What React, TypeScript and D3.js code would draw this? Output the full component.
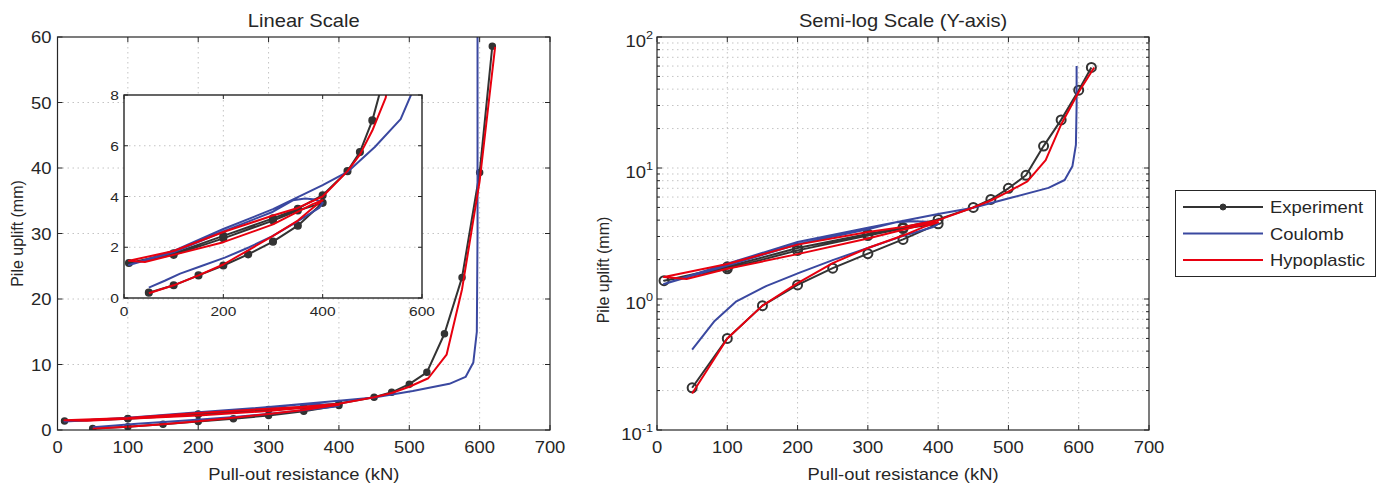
import React from 'react';
import * as d3 from 'd3';

// ---------- data ----------
const expX = [50, 100, 150, 200, 250, 300, 350, 400, 350, 300, 200, 100, 10, 100, 200, 300, 350, 400, 450, 475, 500, 525, 550, 575, 600, 618];
const expY = [0.21, 0.5, 0.89, 1.28, 1.72, 2.22, 2.85, 3.75, 3.45, 3.05, 2.35, 1.7, 1.38, 1.76, 2.45, 3.14, 3.52, 4.05, 5.0, 5.75, 7.0, 8.8, 14.7, 23.3, 39.3, 58.6];

const coulombX = [50, 82, 113, 156, 203, 251, 298, 346, 393, 400, 385, 365, 340, 300, 200, 100, 10, 100, 200, 300, 400, 450, 505, 557, 580, 591, 596, 597, 597];
const coulombY = [0.41, 0.68, 0.96, 1.26, 1.59, 1.99, 2.43, 2.98, 3.55, 3.75, 3.88, 3.92, 3.85, 3.4, 2.62, 1.8, 1.3, 1.86, 2.72, 3.5, 4.45, 4.97, 5.95, 7.05, 8.1, 10.3, 15, 30, 60];

const hypoX = [50, 100, 150, 200, 250, 300, 350, 380, 400, 380, 300, 200, 100, 42, 10, 100, 200, 300, 350, 400, 450, 475, 500, 527, 553, 575, 600, 622];
const hypoY = [0.19, 0.5, 0.89, 1.32, 1.88, 2.45, 3.05, 3.55, 3.85, 3.7, 2.9, 2.2, 1.7, 1.42, 1.47, 1.85, 2.6, 3.25, 3.55, 4.0, 5.0, 5.65, 6.6, 7.9, 11.5, 21.5, 38, 58.5];

const xTicks = [0, 100, 200, 300, 400, 500, 600, 700];
const linYTicks = [0, 10, 20, 30, 40, 50, 60];
const insetXTicks = [0, 200, 400, 600];
const insetYTicks = [0, 2, 4, 6, 8];
const logYMajor = [0.1, 1, 10, 100];
const logYExp = ['-1', '0', '1', '2'];

const seriesNames = ['Experiment', 'Coulomb', 'Hypoplastic'];

// ---------- style ----------
const FONT = "'Liberation Sans', Arial, Helvetica, sans-serif";
const SX = 1.15;
const AX = '#262626';
const GRID = '#c4c4c4';
const COL = { exp: '#333333', coul: '#3a48a0', hypo: '#e8000f' };
const W = 1385;
const H = 486;

const zip = (xs: number[], ys: number[]) => xs.map((x, i) => [x, ys[i]] as [number, number]);

function HText({ x, y, anchor = 'middle', size = 16, children }: any) {
  return (
    <text transform={`translate(${x},${y}) scale(${SX},1)`} textAnchor={anchor} fontSize={size} fontFamily={FONT} fill={AX}>
      {children}
    </text>
  );
}

function Series({ xs, ys, data, color, clip, width = 2 }: any) {
  const line = d3.line<[number, number]>().x(d => xs(d[0])).y(d => ys(d[1]));
  return <path d={line(data) || ''} fill="none" stroke={color} strokeWidth={width} strokeLinejoin="round" clipPath={`url(#${clip})`} />;
}

function Markers({ xs, ys, data, clip, r, filled }: any) {
  return (
    <g clipPath={`url(#${clip})`}>
      {data.map((d: [number, number], i: number) => (
        <circle key={i} cx={xs(d[0])} cy={ys(d[1])} r={r} fill={filled ? COL.exp : 'none'} stroke={COL.exp} strokeWidth={filled ? 1.5 : 2} />
      ))}
    </g>
  );
}

function Frame({ x0, x1, y0, y1, xs, ys, xt, yt, yMinor = [], tick = 5, sw = 1.2 }: any) {
  // inward ticks on all four sides + box
  return (
    <g stroke={AX} strokeWidth={1}>
      {xt.map((t: number) => (
        <g key={'x' + t}>
          <line x1={xs(t)} x2={xs(t)} y1={y1} y2={y1 - tick} />
          <line x1={xs(t)} x2={xs(t)} y1={y0} y2={y0 + tick} />
        </g>
      ))}
      {yt.map((t: number) => (
        <g key={'y' + t}>
          <line x1={x0} x2={x0 + tick} y1={ys(t)} y2={ys(t)} />
          <line x1={x1} x2={x1 - tick} y1={ys(t)} y2={ys(t)} />
        </g>
      ))}
      {yMinor.map((t: number) => (
        <g key={'m' + t}>
          <line x1={x0} x2={x0 + tick * 0.6} y1={ys(t)} y2={ys(t)} />
          <line x1={x1} x2={x1 - tick * 0.6} y1={ys(t)} y2={ys(t)} />
        </g>
      ))}
      <rect x={x0} y={y0} width={x1 - x0} height={y1 - y0} fill="none" strokeWidth={sw} />
    </g>
  );
}

function Grid({ x0, x1, y0, y1, xs, ys, xt, yt }: any) {
  return (
    <g stroke={GRID} strokeWidth={1} strokeDasharray="1.5,3.5">
      {xt.map((t: number) => <line key={'gx' + t} x1={xs(t)} x2={xs(t)} y1={y0} y2={y1} />)}
      {yt.map((t: number) => <line key={'gy' + t} x1={x0} x2={x1} y1={ys(t)} y2={ys(t)} />)}
    </g>
  );
}

export default function App() {
  const expData = zip(expX, expY);
  const coulData = zip(coulombX, coulombY);
  const hypoData = zip(hypoX, hypoY);

  // left (linear)
  const L = { x0: 57.5, x1: 550, y0: 37, y1: 430 };
  const lx = d3.scaleLinear().domain([0, 700]).range([L.x0, L.x1]);
  const ly = d3.scaleLinear().domain([0, 60]).range([L.y1, L.y0]);

  // inset
  const I = { x0: 124, x1: 422, y0: 95, y1: 298 };
  const ix = d3.scaleLinear().domain([0, 600]).range([I.x0, I.x1]);
  const iy = d3.scaleLinear().domain([0, 8]).range([I.y1, I.y0]);

  // right (semi-log)
  const R = { x0: 657, x1: 1149, y0: 37, y1: 430 };
  const rx = d3.scaleLinear().domain([0, 700]).range([R.x0, R.x1]);
  const ry = d3.scaleLog().domain([0.1, 100]).range([R.y1, R.y0]);
  const minor: number[] = [];
  [0.1, 1, 10].forEach(dec => { for (let k = 2; k <= 9; k++) minor.push(k * dec); });

  return (
    <div style={{ position: 'absolute', left: 0, top: 0 }}>
      <svg width={W} height={H} style={{ display: 'block', background: '#fff' }}>
        <defs>
          <clipPath id="clipL"><rect x={L.x0} y={L.y0} width={L.x1 - L.x0} height={L.y1 - L.y0} /></clipPath>
          <clipPath id="clipI"><rect x={I.x0} y={I.y0} width={I.x1 - I.x0} height={I.y1 - I.y0} /></clipPath>
          <clipPath id="clipR"><rect x={R.x0} y={R.y0} width={R.x1 - R.x0} height={R.y1 - R.y0} /></clipPath>
        </defs>
        <rect x={0} y={0} width={W} height={H} fill="#fff" />

        {/* ===== Left: linear ===== */}
        <Grid {...L} xs={lx} ys={ly} xt={xTicks.slice(1, -1)} yt={linYTicks.slice(1, -1)} />
        <Series xs={lx} ys={ly} data={expData} color={COL.exp} clip="clipL" />
        <Markers xs={lx} ys={ly} data={expData} clip="clipL" r={3} filled />
        <Series xs={lx} ys={ly} data={coulData} color={COL.coul} clip="clipL" />
        <Series xs={lx} ys={ly} data={hypoData} color={COL.hypo} clip="clipL" />
        <Frame {...L} xs={lx} ys={ly} xt={xTicks} yt={linYTicks} />
        {xTicks.map(t => <HText key={'lxl' + t} x={lx(t)} y={L.y1 + 23} size={16}>{t}</HText>)}
        {linYTicks.map(t => <HText key={'lyl' + t} x={L.x0 - 6} y={ly(t) + 6} anchor="end" size={16}>{t}</HText>)}
        <HText x={(L.x0 + L.x1) / 2} y={27} size={17.5}>Linear Scale</HText>
        <HText x={(L.x0 + L.x1) / 2} y={480} size={16}>Pull-out resistance (kN)</HText>
        <text transform={`translate(23,${(L.y0 + L.y1) / 2}) rotate(-90)`} textAnchor="middle" fontSize={16} fontFamily={FONT} fill={AX}>Pile uplift (mm)</text>

        {/* ===== Inset ===== */}
        <rect x={I.x0} y={I.y0} width={I.x1 - I.x0} height={I.y1 - I.y0} fill="#fff" />
        <Grid {...I} xs={ix} ys={iy} xt={insetXTicks.slice(1, -1)} yt={insetYTicks.slice(1, -1)} />
        <Series xs={ix} ys={iy} data={expData} color={COL.exp} clip="clipI" />
        <Markers xs={ix} ys={iy} data={expData} clip="clipI" r={3.3} filled />
        <Series xs={ix} ys={iy} data={coulData} color={COL.coul} clip="clipI" />
        <Series xs={ix} ys={iy} data={hypoData} color={COL.hypo} clip="clipI" />
        <Frame {...I} xs={ix} ys={iy} xt={insetXTicks} yt={insetYTicks} tick={4} sw={1.4} />
        {insetXTicks.map(t => <HText key={'ixl' + t} x={ix(t)} y={I.y1 + 18} size={13.5}>{t}</HText>)}
        {insetYTicks.map(t => <HText key={'iyl' + t} x={I.x0 - 5} y={iy(t) + 5} anchor="end" size={13.5}>{t}</HText>)}

        {/* ===== Right: semi-log ===== */}
        <Grid {...R} xs={rx} ys={ry} xt={xTicks.slice(1, -1)} yt={[...logYMajor.slice(1, -1), ...minor]} />
        <Series xs={rx} ys={ry} data={expData} color={COL.exp} clip="clipR" />
        <Markers xs={rx} ys={ry} data={expData} clip="clipR" r={4.5} filled={false} />
        <Series xs={rx} ys={ry} data={coulData} color={COL.coul} clip="clipR" />
        <Series xs={rx} ys={ry} data={hypoData} color={COL.hypo} clip="clipR" />
        <Frame {...R} xs={rx} ys={ry} xt={xTicks} yt={logYMajor} yMinor={minor} />
        {xTicks.map(t => <HText key={'rxl' + t} x={rx(t)} y={R.y1 + 23} size={16}>{t}</HText>)}
        {logYMajor.map((t, i) => (
          <text key={'ryl' + t} transform={`translate(${R.x0 - 4},${ry(t) + 10}) scale(${SX},1)`} textAnchor="end" fontSize={16} fontFamily={FONT} fill={AX}>
            <tspan>10</tspan>
            <tspan dy={-8} fontSize={11}>{logYExp[i]}</tspan>
          </text>
        ))}
        <HText x={(R.x0 + R.x1) / 2} y={27} size={17.5}>Semi-log Scale (Y-axis)</HText>
        <HText x={(R.x0 + R.x1) / 2} y={480} size={16}>Pull-out resistance (kN)</HText>
        <text transform={`translate(609,270) rotate(-90)`} textAnchor="middle" fontSize={16} fontFamily={FONT} fill={AX}>Pile uplift (mm)</text>

        {/* ===== Legend ===== */}
        <rect x={1175.5} y={190.5} width={200} height={86} fill="#fff" stroke={AX} strokeWidth={1} />
        {seriesNames.map((name, i) => {
          const y = 207 + i * 26.5;
          const c = [COL.exp, COL.coul, COL.hypo][i];
          return (
            <g key={name}>
              <line x1={1183} x2={1263} y1={y} y2={y} stroke={c} strokeWidth={2} />
              {i === 0 && <circle cx={1223} cy={y} r={3} fill={COL.exp} stroke={COL.exp} />}
              <HText x={1270} y={y + 6} anchor="start" size={16}>{name}</HText>
            </g>
          );
        })}
      </svg>
    </div>
  );
}
